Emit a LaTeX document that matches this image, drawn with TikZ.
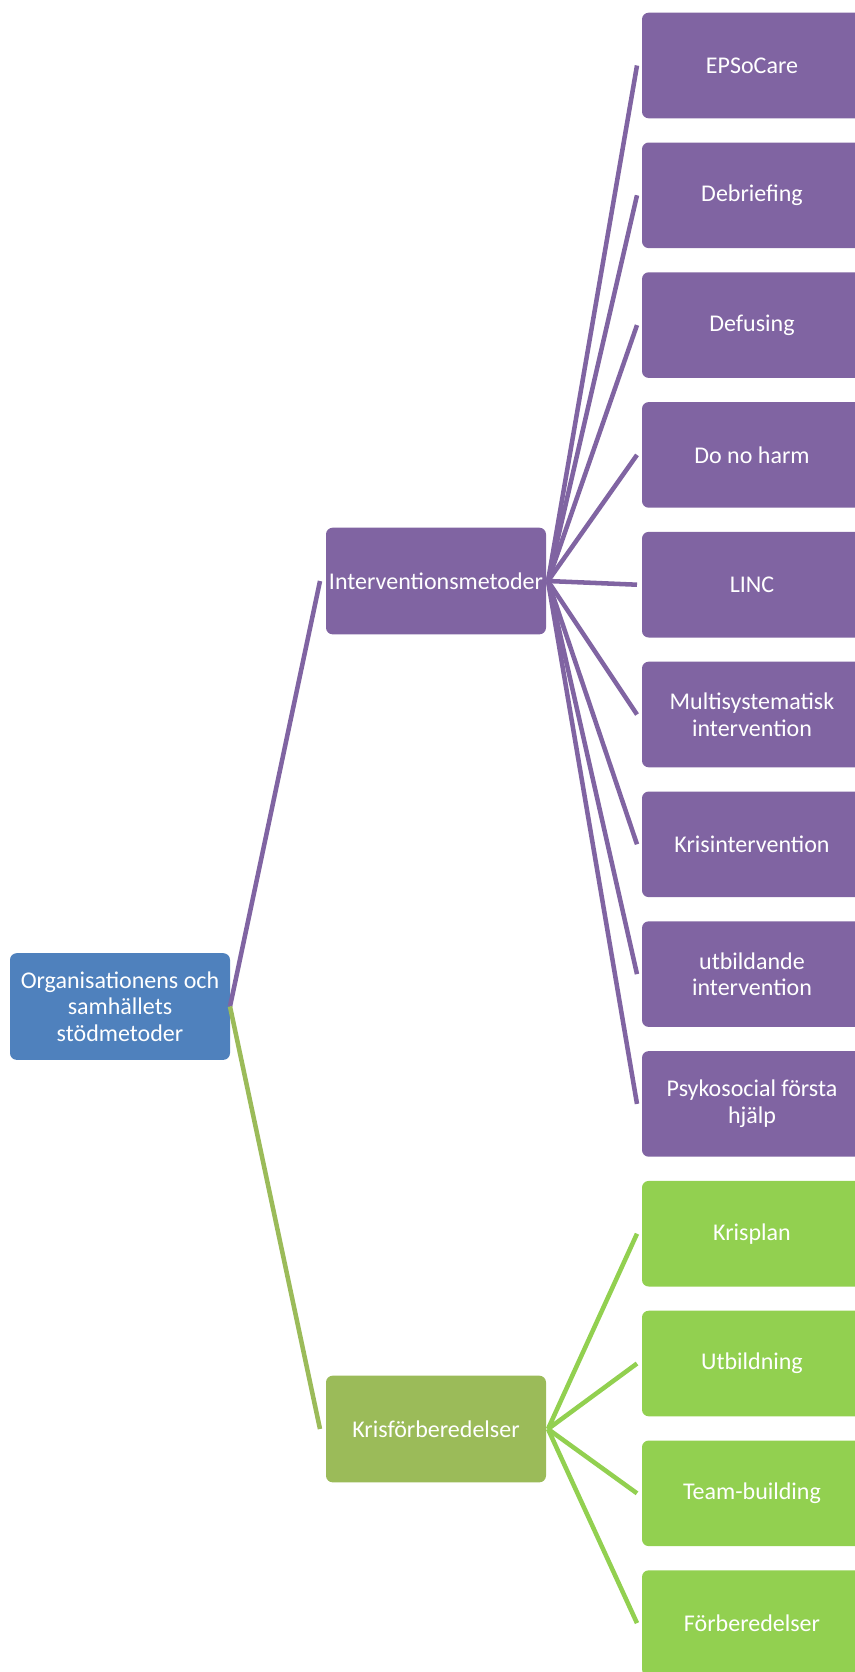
\documentclass[tikz,border=0pt]{standalone}
\usepackage{fontspec}
\setmainfont{Carlito}
\usetikzlibrary{positioning}
\definecolor{rootblue}{RGB}{79,129,189}
\definecolor{methodpurple}{RGB}{128,100,162}
\definecolor{prepolive}{RGB}{155,187,89}
\definecolor{prepgreen}{RGB}{146,208,80}
\tikzset{
  map box/.style={
    rectangle, rounded corners=5pt, text=white, align=center,
    minimum width=165pt, minimum height=80pt,
    inner sep=2pt, outer sep=0pt, font=\fontsize{18pt}{20pt}\selectfont
  },
  root box/.style={map box, fill=rootblue},
  method box/.style={map box, fill=methodpurple},
  prep box/.style={map box, fill=prepolive},
  method leaf/.style={map box, fill=methodpurple, minimum height=79.2pt},
  prep leaf/.style={map box, fill=prepgreen, minimum height=79.2pt},
  method link/.style={line width=3.4pt, methodpurple},
  prep link/.style={line width=3.4pt, prepolive},
  leaf link/.style={line width=3.4pt, prepgreen}
}

\begin{document}
\begin{tikzpicture}[x=0.75pt, y=-0.75pt, node distance=18.15pt]
    \useasboundingbox (0,0) rectangle (855,1672);
    \clip (0,0) rectangle (855,1672);
    % root and the two branches
    \node[root box] (root) at (120,1006.5) {Organisationens och\\samhällets\\stödmetoder};
    \node[method box] (interv) at (436,581) {Interventionsmetoder};
    \node[prep box] (prep) at (436,1429) {Krisförberedelser};
    % leaves
    \node[method leaf] (epsocare) at (752,65.5) {EPSoCare};
    \node[method leaf, below=of epsocare] (debriefing) {Debriefing};
    \node[method leaf, below=of debriefing] (defusing) {Defusing};
    \node[method leaf, below=of defusing] (donoharm) {Do no harm};
    \node[method leaf, below=of donoharm] (linc) {LINC};
    \node[method leaf, below=of linc] (multisys) {Multisystematisk\\intervention};
    \node[method leaf, below=of multisys] (krisint) {Krisintervention};
    \node[method leaf, below=of krisint] (utbint) {utbildande\\intervention};
    \node[method leaf, below=of utbint] (psykosocial) {Psykosocial första\\hjälp};
    \node[prep leaf, below=of psykosocial] (krisplan) {Krisplan};
    \node[prep leaf, below=of krisplan] (utbildning) {Utbildning};
    \node[prep leaf, below=of utbildning] (teambuilding) {Team-building};
    \node[prep leaf, below=of teambuilding] (forberedelser) {Förberedelser};
    % connectors
    \draw[method link] (root.east) -- ([xshift=-4.5pt]interv.west);
    \draw[prep link] (root.east) -- ([xshift=-4.5pt]prep.west);
    \draw[method link] ([xshift=1.5pt]interv.east) -- ([xshift=-3.75pt]epsocare.west);
    \draw[method link] ([xshift=1.5pt]interv.east) -- ([xshift=-3.75pt]debriefing.west);
    \draw[method link] ([xshift=1.5pt]interv.east) -- ([xshift=-3.75pt]defusing.west);
    \draw[method link] ([xshift=1.5pt]interv.east) -- ([xshift=-3.75pt]donoharm.west);
    \draw[method link] ([xshift=1.5pt]interv.east) -- ([xshift=-3.75pt]linc.west);
    \draw[method link] ([xshift=1.5pt]interv.east) -- ([xshift=-3.75pt]multisys.west);
    \draw[method link] ([xshift=1.5pt]interv.east) -- ([xshift=-3.75pt]krisint.west);
    \draw[method link] ([xshift=1.5pt]interv.east) -- ([xshift=-3.75pt]utbint.west);
    \draw[method link] ([xshift=1.5pt]interv.east) -- ([xshift=-3.75pt]psykosocial.west);
    \draw[leaf link] ([xshift=1.5pt]prep.east) -- ([xshift=-3.75pt]krisplan.west);
    \draw[leaf link] ([xshift=1.5pt]prep.east) -- ([xshift=-3.75pt]utbildning.west);
    \draw[leaf link] ([xshift=1.5pt]prep.east) -- ([xshift=-3.75pt]teambuilding.west);
    \draw[leaf link] ([xshift=1.5pt]prep.east) -- ([xshift=-3.75pt]forberedelser.west);
\end{tikzpicture}
\end{document}
